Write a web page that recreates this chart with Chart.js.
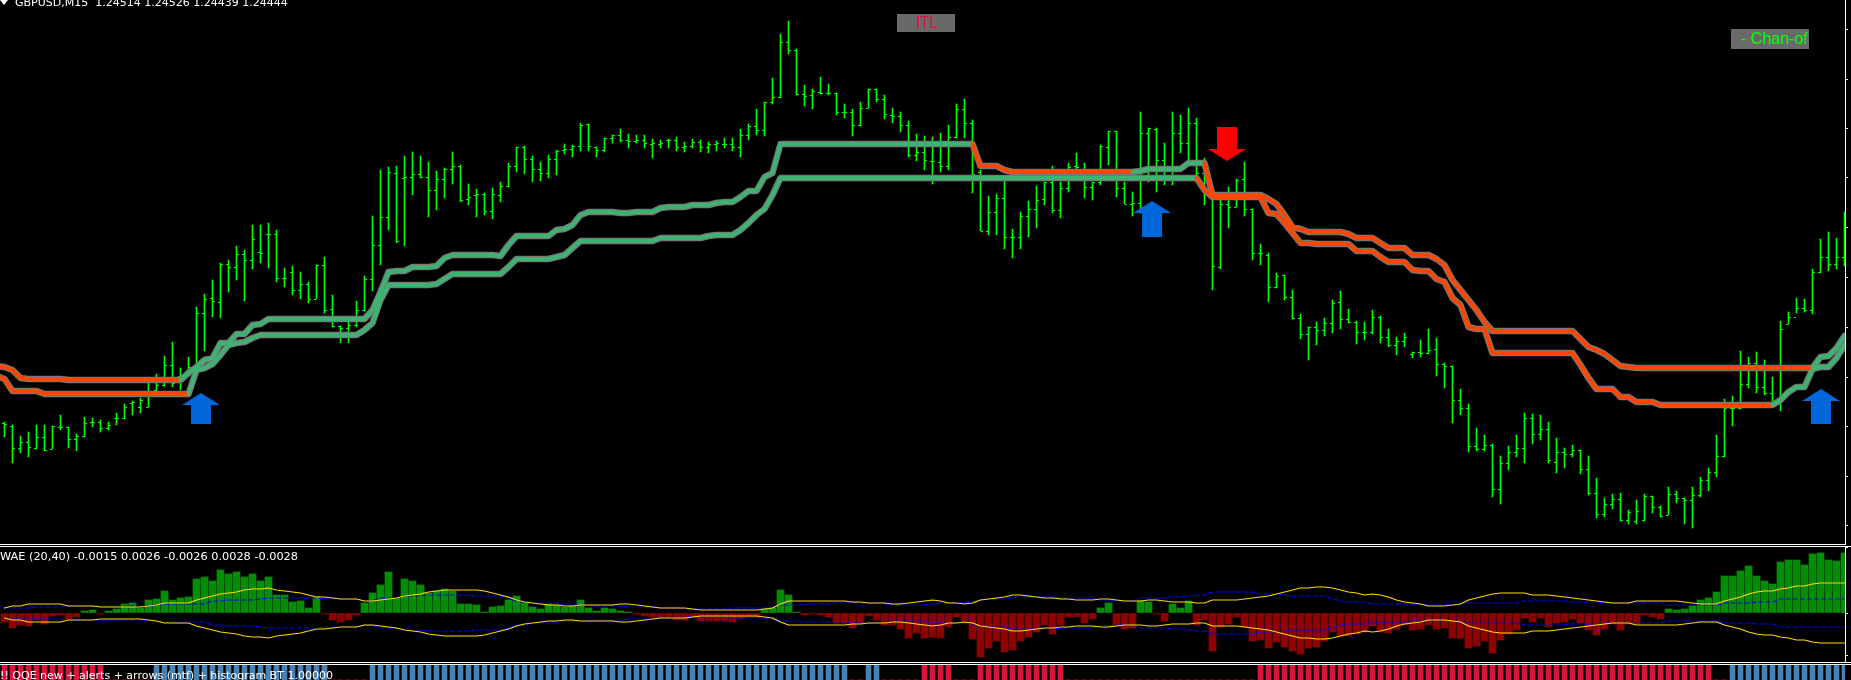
<!DOCTYPE html>
<html>
<head>
<meta charset="utf-8">
<title>GBPUSD M15</title>
<script src="https://cdn.jsdelivr.net/npm/chart.js@4"></script>
<style>
html,body{margin:0;padding:0;background:#000;width:1851px;height:680px;overflow:hidden}
.c{position:absolute;left:0;width:1851px}
canvas{display:block}
.sep{position:absolute;left:0;height:1px;background:#fff}
.t{position:absolute;color:#fff;font-family:"DejaVu Sans",sans-serif;font-size:11px;white-space:pre;line-height:12px}
.box{position:absolute;background:#696969;overflow:hidden;white-space:pre}
#tri{position:absolute;left:0;top:0;width:8px;height:5px;background:#fff;clip-path:polygon(0 0,100% 0,50% 100%)}
</style>
</head>
<body>
<div class="c" style="top:0;height:544px"><canvas id="main"></canvas></div>
<div class="c" style="top:547px;height:115px"><canvas id="wae"></canvas></div>
<div class="c" style="top:665px;height:15px"><canvas id="qqe"></canvas></div>
<div class="sep" style="top:544px;width:1846px"></div>
<div class="sep" style="top:546px;width:1851px"></div>
<div class="sep" style="top:662px;width:1851px"></div>
<div class="sep" style="top:664px;width:1851px"></div>
<div id="tri"></div>
<div class="t" style="left:15px;top:-3px">GBPUSD,M15  1.24514 1.24526 1.24439 1.24444</div>
<div class="t" style="left:0;top:551px;font-size:11.3px">WAE (20,40) -0.0015 0.0026 -0.0026 0.0028 -0.0028</div>
<div class="t" style="left:0;top:670px">!! QQE new + alerts + arrows (mtf) + histogram BT 1.00000</div>
<div class="box" style="left:897px;top:14px;width:58px;height:18px;color:#dc143c;font:16px/18px 'Liberation Sans Narrow','Liberation Sans',sans-serif;text-indent:19px;letter-spacing:-0.5px">ITL</div>
<div class="box" style="left:1731px;top:29px;width:78px;height:20px;color:#00ff00;font:16px/20px 'Liberation Sans',sans-serif"><span style="margin-left:-11px">G</span><span style="margin-left:8.6px">- Chan-of</span></div>
<script>
// Prices are in 0.00001 steps above 1.24000 (so 444 = 1.24444)
const barHigh = [
250,247,236,240,247,247,246,257,245,238,
255,254,252,250,259,268,271,274,289,298,
316,330,304,315,365,378,392,409,412,426,
422,447,447,449,442,404,406,400,390,407,
415,377,346,350,371,396,456,502,505,506,
516,520,516,510,501,504,520,507,488,483,
479,484,490,509,525,526,516,510,517,522,
528,527,549,548,525,534,537,543,538,537,
537,533,532,533,535,530,533,532,530,531,
534,534,543,548,563,570,594,638,651,623,
587,583,595,588,579,568,563,570,583,583,
577,564,560,551,538,536,535,539,547,568,
573,552,502,476,478,492,443,460,471,486,
490,506,490,509,519,509,490,527,541,541,
490,480,560,544,544,529,560,557,564,554,
514,482,475,485,493,510,463,428,419,399,
397,382,358,345,350,354,372,381,363,351,
350,362,356,343,335,339,320,332,343,334,
309,306,283,268,244,237,228,216,226,237,
259,258,257,250,234,224,227,222,216,194,
174,178,179,162,172,178,176,166,185,181,
174,185,195,204,237,273,276,321,315,320,
312,295,351,360,374,373,403,433,440,434,
460];
const barLow = [
235,209,219,215,223,221,223,242,224,221,
235,245,240,242,247,253,257,259,265,281,
286,285,282,297,305,321,355,354,380,392,
371,403,409,404,390,385,377,373,369,373,
359,345,329,329,345,361,381,407,442,429,
426,477,494,455,462,474,488,470,467,455,
457,453,470,485,500,498,490,491,494,497,
518,515,521,521,515,520,529,530,524,529,
524,514,524,524,521,520,524,520,519,521,
524,521,515,532,537,536,568,574,618,577,
566,563,578,577,557,554,536,546,564,570,
553,549,540,515,511,502,488,500,502,534,
534,479,441,437,437,423,414,423,435,444,
467,459,454,480,497,474,472,487,507,475,
468,456,459,490,480,487,487,519,509,490,
467,382,403,444,465,456,412,407,370,384,
372,353,333,312,327,336,339,343,349,328,
332,338,329,325,317,325,314,315,318,296,
284,249,257,220,221,221,175,168,202,215,
209,228,232,209,199,204,215,198,177,154,
155,163,151,148,148,151,159,155,157,169,
148,144,175,181,195,215,246,263,284,279,
277,270,261,348,359,360,358,399,401,403,
406];
const barOpen = [
249,246,224,230,224,235,223,245,245,233,
236,250,250,244,254,254,269,265,265,282,
287,307,296,302,305,359,374,370,408,405,
418,412,420,438,438,394,400,382,388,373,
407,363,346,344,347,362,393,427,455,499,
494,495,498,495,482,493,503,506,473,477,
478,461,477,486,506,525,513,503,499,513,
522,523,526,548,525,522,534,537,532,531,
532,528,528,532,532,525,526,530,525,528,
528,528,525,537,546,542,570,575,630,622,
578,577,580,579,579,560,560,547,564,583,
573,557,556,547,517,520,511,510,506,535,
563,549,500,441,460,474,435,435,456,463,
473,490,462,484,506,503,485,490,525,541,
484,468,469,539,543,512,505,539,529,549,
499,479,405,468,465,493,463,419,417,385,
397,375,354,338,345,342,349,370,353,350,
340,340,355,335,327,331,318,320,319,323,
308,306,272,264,226,223,227,183,209,220,
224,254,238,243,210,220,218,222,203,179,
158,168,173,152,151,152,176,165,157,178,
174,172,177,192,200,216,264,264,288,309,
285,279,271,348,355,364,362,400,415,408,
415];
const barClose = [
248,224,230,225,235,222,246,245,233,236,
249,250,244,247,254,265,270,272,281,287,
307,289,297,305,359,373,371,408,405,418,
412,433,419,438,394,394,382,388,373,407,
362,346,344,347,362,393,427,455,500,431,
495,498,495,482,493,503,506,472,475,478,
461,478,486,506,525,513,503,499,513,521,
523,526,547,526,522,534,537,532,531,532,
529,529,529,532,525,526,530,525,528,529,
528,525,537,546,542,570,575,630,622,578,
576,581,579,579,560,560,547,564,583,573,
558,556,547,517,520,512,511,506,535,563,
549,498,441,460,474,435,435,456,463,472,
490,462,484,505,505,485,490,526,541,484,
468,469,539,544,512,505,539,529,549,499,
479,406,468,465,492,463,419,419,385,396,
375,354,338,345,342,349,369,353,350,340,
340,355,335,327,331,335,320,319,322,308,
306,272,264,226,223,227,183,209,220,224,
254,238,243,212,220,218,222,203,179,158,
168,173,152,160,161,176,165,156,178,174,
172,177,192,200,216,264,264,288,309,285,
279,271,343,355,364,362,400,415,408,415,
444];
const channelUpper = [
305,302,294,293,293,293,293,293,292,292,
292,292,292,292,292,292,292,292,292,292,
292,292,292,299,305,312,314,329,329,338,
338,347,348,353,353,353,353,353,353,353,
353,353,353,353,353,353,362,380,400,401,
401,405,405,405,406,414,417,417,417,417,
417,417,416,427,436,436,436,436,436,442,
443,447,457,460,460,460,460,459,459,460,
460,460,464,465,465,465,467,467,467,469,
470,470,475,481,481,495,499,528,528,528,
528,528,528,528,528,528,528,528,528,528,
528,528,528,528,528,528,528,528,528,528,
528,528,506,506,506,502,500,500,500,500,
500,500,500,500,500,500,500,500,500,500,
500,500,501,503,503,503,503,503,509,509,
509,477,477,477,477,477,477,477,473,468,
457,445,443,440,440,440,440,440,438,434,
434,434,429,424,424,424,417,417,417,413,
407,392,382,372,362,350,341,341,341,341,
341,341,341,341,341,341,341,333,325,322,
318,312,306,305,304,304,304,304,304,304,
304,304,304,304,304,304,304,304,304,304,
304,304,304,304,304,304,304,315,316,324,
336];
const channelLower = [
293,281,281,281,281,278,278,278,278,278,
278,278,278,278,278,278,278,278,278,278,
278,278,278,278,302,304,308,317,327,329,
330,334,337,337,337,337,337,337,337,337,
337,337,337,337,337,342,349,372,387,387,
387,387,387,387,388,393,398,398,398,398,
398,398,398,405,413,413,413,413,413,415,
417,424,431,431,431,431,431,431,431,431,
431,431,434,434,434,434,434,434,436,437,
437,437,442,449,457,463,477,494,494,494,
494,494,494,494,494,494,494,494,494,494,
494,494,494,494,494,494,494,494,494,494,
494,494,494,494,494,494,494,494,494,494,
494,494,494,494,494,494,494,494,494,494,
494,494,494,494,494,494,494,494,494,494,
482,475,475,475,475,475,475,475,459,458,
449,439,429,429,428,428,428,428,428,421,
421,421,415,410,410,410,402,401,401,393,
390,374,367,345,343,343,319,319,319,319,
319,319,319,319,319,319,319,307,294,283,
283,283,275,275,270,270,270,267,267,267,
267,267,267,267,267,267,267,267,267,267,
267,267,272,280,285,285,303,305,305,314,
327];
// Channel values for the bar just left of the visible window
const upperBefore = 306;
const lowerBefore = 296;
// Bar indexes where each channel line swaps colour; both start bearish (orange)
const upperFlips = [22,121,141,150,226];
const lowerFlips = [23,149,221];
const priceTicks = [643,593,544,494,444,395,345,295,246,196,147];
// Signal arrows: bar position, centre price, height
const upArrowAt = [24.56,143.44,227.06];
const upArrowPrice = [263.5,453,265.5];
const upArrowLen = [31,36,35];
const downArrowAt = [152.8];
const downArrowPrice = [528];
const downArrowLen = [34];
// WAE histogram and envelope, in 0.00001 steps
const waeHist = [
-9,-15,-12,-13,-7,-11,-3,-2,-6,-4,
2,3,-1,2,4,9,10,5,13,14,
22,13,15,16,34,36,32,43,39,41,
36,39,32,36,18,18,11,12,5,16,
-1,-7,-9,-7,-2,10,20,28,41,15,
34,32,28,20,22,24,22,9,9,8,
1,6,7,13,17,10,6,4,9,8,
6,7,13,5,2,5,4,2,1,-1,
-3,-4,-4,-4,-7,-7,-4,-8,-8,-8,
-8,-9,-6,-4,-4,4,5,23,18,1,
-2,-1,-2,-4,-10,-10,-15,-10,-3,-7,
-12,-12,-16,-25,-20,-25,-24,-25,-14,-4,
-8,-26,-44,-35,-28,-39,-37,-28,-24,-19,
-12,-21,-12,-4,-4,-10,-6,5,10,-12,
-16,-15,12,11,-1,-8,9,5,12,-12,
-7,-38,-14,-11,-4,-14,-28,-27,-35,-29,
-34,-38,-41,-35,-34,-28,-19,-23,-23,-21,
-19,-13,-19,-20,-16,-12,-17,-16,-12,-16,
-15,-25,-25,-35,-33,-28,-40,-27,-21,-17,
-5,-9,-5,-14,-10,-9,-6,-10,-17,-22,
-16,-11,-17,-11,-11,-2,-4,-6,4,3,
4,7,13,15,21,37,37,42,47,37,
32,29,51,53,53,48,59,60,53,52,
60];
const waeExplosion = [
5,7,7,9,9,9,9,9,7,7,
7,7,6,6,6,6,6,6,7,8,
10,10,10,10,13,15,17,19,20,21,
23,24,24,25,23,22,21,20,18,16,
16,15,14,14,14,12,12,13,14,15,
17,18,19,21,22,23,23,23,23,23,
22,20,18,16,13,11,10,9,8,8,
7,7,8,8,8,8,8,9,9,8,
7,6,5,5,5,5,4,3,3,3,
3,3,3,3,3,4,5,9,12,12,
12,12,12,12,12,12,11,11,10,10,
10,9,9,10,11,12,13,12,10,10,
9,10,13,14,15,16,18,18,17,16,
15,15,14,14,13,13,13,14,14,13,
12,12,12,13,13,12,11,11,11,10,
10,13,13,13,13,14,15,16,17,19,
21,23,25,25,26,26,25,23,21,20,
18,19,18,16,13,11,10,9,7,7,
7,8,9,13,15,17,19,20,20,20,
20,18,18,18,17,16,15,14,13,12,
11,10,10,10,12,12,12,12,12,12,
11,10,9,9,9,12,14,16,19,21,
22,22,24,25,27,27,29,30,30,30,
30];
const waeDeadZone = [
5,5,5,5,6,6,6,6,7,7,
7,7,7,7,7,7,7,7,7,8,
9,9,9,9,9,9,12,12,13,13,
13,13,14,15,15,15,15,15,15,15,
14,14,14,14,14,12,12,15,15,15,
17,17,17,18,18,18,18,18,18,17,
17,17,17,15,12,12,10,10,10,10,
8,8,8,8,7,7,7,7,6,6,
6,6,5,5,5,4,4,4,4,4,
4,5,5,5,5,5,6,8,8,8,
9,9,9,9,10,10,10,10,10,10,
10,8,8,8,8,8,9,10,10,10,
10,11,13,14,14,14,16,16,16,16,
16,16,15,15,15,15,15,13,13,12,
12,12,15,15,15,15,16,16,17,18,
18,21,21,21,21,21,21,19,19,19,
18,17,17,17,17,17,14,12,11,11,
11,9,9,9,9,9,8,8,8,8,
8,8,10,10,10,10,10,10,10,10,
12,12,12,12,12,12,11,11,11,11,
10,10,10,10,10,10,10,10,8,8,
8,8,8,8,8,10,10,10,10,11,
11,11,14,14,14,14,14,14,14,14,
14];
const waeTicks = [65,0,-42];
// QQE state per bar: 1 up, -1 down, 0 none
const qqeState = [
-1,-1,-1,-1,-1,-1,-1,-1,-1,-1,
-1,-1,-1,0,0,0,0,0,0,1,
1,1,1,1,1,1,1,1,1,1,
1,1,1,1,1,1,1,1,1,1,
1,0,0,0,0,0,1,1,1,1,
1,1,1,1,1,1,1,1,1,1,
1,1,1,1,1,1,1,1,1,1,
1,1,1,1,1,1,1,1,1,1,
1,1,1,1,1,1,1,1,1,1,
1,1,1,1,1,1,1,1,1,1,
1,1,1,1,1,1,0,0,1,1,
0,0,0,0,0,-1,-1,-1,-1,0,
0,0,-1,-1,-1,-1,-1,-1,-1,-1,
-1,-1,-1,0,0,0,0,0,0,0,
0,0,0,0,0,0,0,0,0,0,
0,0,0,0,0,0,0,-1,-1,-1,
-1,-1,-1,-1,-1,-1,-1,-1,-1,-1,
-1,-1,-1,-1,-1,-1,-1,-1,-1,-1,
-1,-1,-1,-1,-1,-1,-1,-1,-1,-1,
-1,-1,-1,-1,-1,-1,-1,-1,-1,-1,
-1,-1,-1,-1,-1,-1,-1,-1,-1,-1,
-1,-1,-1,-1,0,0,1,1,1,1,
1,1,1,1,1,1,1,1,1,1,
1];

const XMIN = -0.5625, XMAX = 230.0625;   // 8 px per bar across the plot
const GREEN = '#00ff00';
Chart.defaults.animation = false;
Chart.defaults.responsive = false;
Chart.defaults.plugins.legend.display = false;
Chart.defaults.plugins.tooltip.enabled = false;

function tickImage(side){
  const c = document.createElement('canvas'); c.width = 9; c.height = 2;
  const g = c.getContext('2d'); g.fillStyle = GREEN;
  g.fillRect(side < 0 ? 2 : 5, 1, 2, 1);
  return c;
}
function arrowImage(dir, len, color){
  const c = document.createElement('canvas'); c.width = 38; c.height = len;
  const g = c.getContext('2d'); g.fillStyle = color;
  if (dir < 0){ g.translate(0, len); g.scale(1, -1); }
  g.beginPath();
  g.moveTo(19, 0); g.lineTo(38, 12); g.lineTo(29, 12); g.lineTo(29, len);
  g.lineTo(9, len); g.lineTo(9, 12); g.lineTo(0, 12); g.closePath(); g.fill();
  return c;
}
const xScale = {type:'linear', min:XMIN, max:XMAX, offset:false, display:false, grid:{display:false,offset:false}};
function yScale(min, max, ticks){
  return {
    position:'right', min, max,
    afterBuildTicks(s){ s.ticks = ticks.map(v => ({value:v})); },
    afterFit(s){ s.width = 6; },
    ticks:{display:false},
    grid:{drawOnChartArea:false, drawTicks:true, tickLength:3, color:'#fff'},
    border:{display:true, color:'#fff', width:1}
  };
}
function noScaleY(min, max){ return {min, max, display:false, grid:{display:false}, afterFit(s){ s.width = 0; }}; }
const isBull = (flips, i) => flips.filter(f => f <= i).length % 2 === 1;
const pts = arr => arr.map((y, x) => ({x, y}));
const withBefore = (before, arr) => [{x:-1, y:before}, ...pts(arr)];
// dataset index 0 is the off-screen bar -1
const lineColour = flips => ({borderColor: ctx => isBull(flips, ctx.p0DataIndex - 1) ? '#3cb371' : '#ff4500'});
const lineBase = {type:'line', pointRadius:0, tension:0, borderJoinStyle:'round', borderCapStyle:'round', fill:false};
const noPad = {padding:0, autoPadding:false};

function sized(id, h){ const c = document.getElementById(id); c.width = 1851; c.height = h; return c; }

new Chart(sized('main', 544), {
  type:'bar',
  data:{datasets:[
    {label:'High-Low', order:6, data:barHigh.map((h,x)=>({x, y:[barLow[x],h]})), backgroundColor:GREEN, barThickness:1, borderWidth:0},
    {label:'Open', type:'scatter', order:5, data:pts(barOpen), pointStyle:tickImage(-1), pointRadius:3},
    {label:'Close', type:'scatter', order:5, data:pts(barClose), pointStyle:tickImage(1), pointRadius:3},
    {...lineBase, label:'Upper halo', order:4, data:withBefore(upperBefore, channelUpper), borderColor:'#777777', borderWidth:6.5},
    {...lineBase, label:'Lower halo', order:4, data:withBefore(lowerBefore, channelLower), borderColor:'#777777', borderWidth:6.5},
    {...lineBase, label:'Upper', order:3, data:withBefore(upperBefore, channelUpper), borderWidth:4, segment:lineColour(upperFlips)},
    {...lineBase, label:'Lower', order:3, data:withBefore(lowerBefore, channelLower), borderWidth:4, segment:lineColour(lowerFlips)},
    ...upArrowAt.map((x,i)=>({label:'Buy', type:'scatter', order:1, data:[{x, y:upArrowPrice[i]}], pointStyle:arrowImage(1, upArrowLen[i], '#0068dc'), pointRadius:3})),
    ...downArrowAt.map((x,i)=>({label:'Sell', type:'scatter', order:1, data:[{x, y:downArrowPrice[i]}], pointStyle:arrowImage(-1, downArrowLen[i], '#ff0000'), pointRadius:3}))
  ]},
  options:{layout:noPad, scales:{x:xScale, y:yScale(128, 672, priceTicks)}}
});

new Chart(sized('wae', 115), {
  type:'bar',
  data:{datasets:[
    {label:'WAE', order:3, data:pts(waeHist), barThickness:7, borderWidth:0,
     backgroundColor: waeHist.map(v => v >= 0 ? '#008f00' : '#8f0000')},
    {...lineBase, label:'Dead zone', order:2, data:pts(waeDeadZone), borderColor:'#0000ff', borderWidth:1.2, borderDash:[4,3]},
    {...lineBase, label:'Dead zone low', order:2, data:pts(waeDeadZone.map(v=>-v)), borderColor:'#0000ff', borderWidth:1.2, borderDash:[4,3]},
    {...lineBase, label:'Explosion', order:1, data:pts(waeExplosion), borderColor:'#ffd700', borderWidth:1.2},
    {...lineBase, label:'Explosion low', order:1, data:pts(waeExplosion.map(v=>-v)), borderColor:'#ffd700', borderWidth:1.2}
  ]},
  options:{layout:noPad, scales:{x:xScale, y:yScale(-49, 66, waeTicks)}}
});

new Chart(sized('qqe', 15), {
  type:'bar',
  data:{datasets:[
    {label:'QQE', data:pts(qqeState.map(Math.abs)), barThickness:5, borderWidth:0,
     backgroundColor: qqeState.map(v => v > 0 ? '#4682b4' : '#dc143c')}
  ]},
  options:{layout:{padding:{right:6}, autoPadding:false}, scales:{x:xScale, y:noScaleY(0,1)}}
});
</script>
</body>
</html>
